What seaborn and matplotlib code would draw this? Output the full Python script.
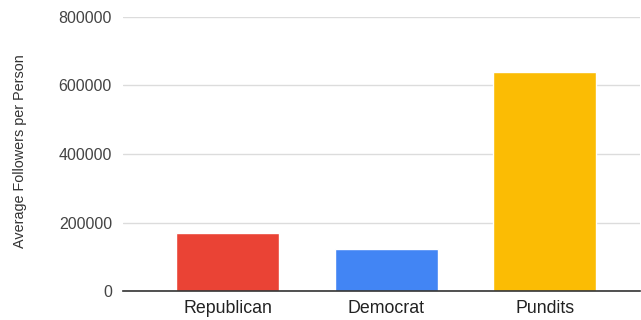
import matplotlib
matplotlib.use("Agg")
import matplotlib.pyplot as plt
import seaborn as sns
import pandas as pd

groups = ["Republican", "Democrat", "Pundits"]
avg_followers = [170000, 124000, 640000]
bar_colors = ["#EA4335", "#4285F4", "#FBBC04"]
y_ticks = [0, 200000, 400000, 600000, 800000]

sns.set_style("white")
plt.rcParams["font.family"] = ["Liberation Sans", "DejaVu Sans"]

df = pd.DataFrame({"group": groups, "followers": avg_followers})

fig = plt.figure(figsize=(6.41, 3.2), dpi=100)
ax = fig.add_axes([123 / 641, 1 - 291.3 / 320, (640 - 123) / 641, (291.3 - 16.9) / 320])

sns.barplot(data=df, x="group", y="followers", hue="group", palette=bar_colors,
            width=0.65, legend=False, ax=ax, saturation=1)

ax.set_xlim(-0.66, 2.6)
ax.set_ylim(0, 800000)
ax.set_yticks(y_ticks)
ax.set_yticklabels([str(v) for v in y_ticks])
ax.grid(axis="y", color="#dcdcdc", linewidth=1)
ax.set_axisbelow(True)

for side in ["left", "right", "top"]:
    ax.spines[side].set_visible(False)
ax.spines["bottom"].set_color("#333333")
ax.spines["bottom"].set_linewidth(1.2)
ax.spines["bottom"].set_zorder(5)

ax.tick_params(axis="y", length=5, color="#dcdcdc", labelsize=11.5, labelcolor="#444444", pad=3)
ax.tick_params(axis="x", length=0, labelsize=12.8, labelcolor="#222222", pad=6)

ax.set_xlabel("")
ax.set_ylabel("Average Followers per Person", fontsize=10.4, color="#333333")
ax.yaxis.set_label_coords(-(123 - 27) / 517, 0.51)

fig.savefig("out.png", dpi=100)
